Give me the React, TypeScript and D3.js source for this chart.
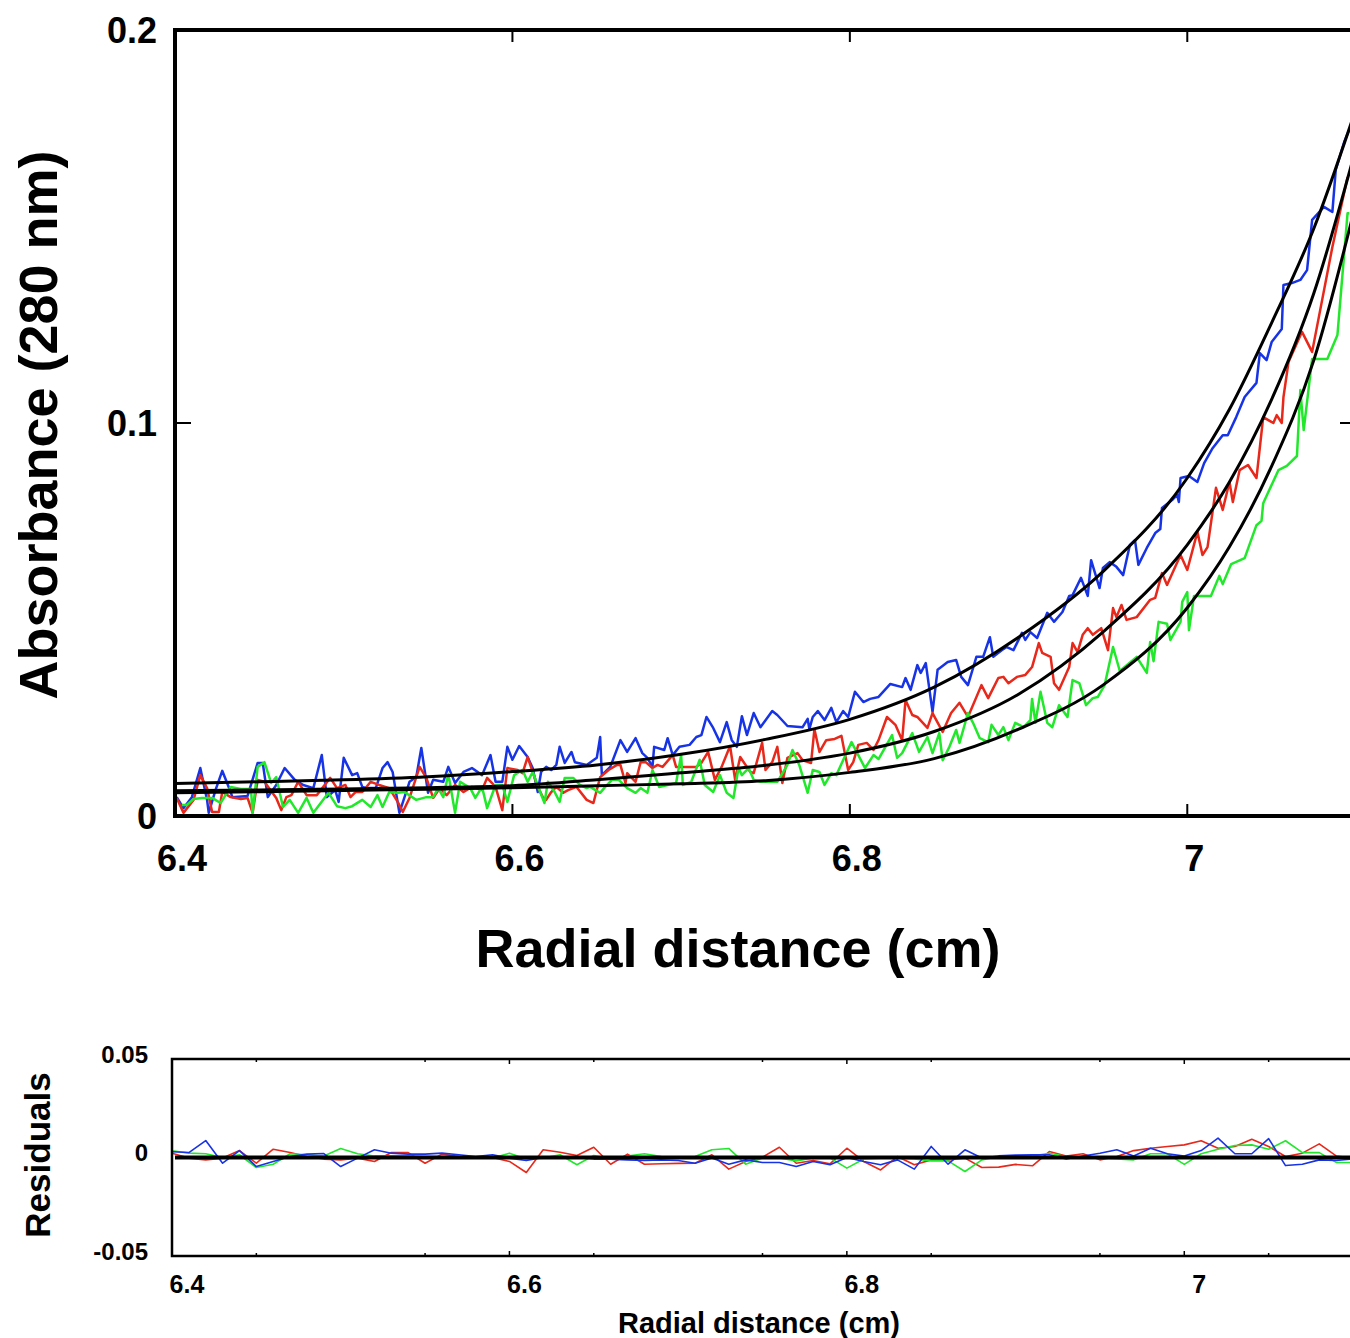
import React from 'react';
import * as d3 from 'd3';

// sedimentation equilibrium scans, absorbance at 280 nm vs radius
const W = 1350;
const H = 1338;
const FONT = '"Liberation Sans", Arial, Helvetica, sans-serif';

const BLUE = '#1733e6';
const RED = '#e8281a';
const GREEN = '#22e82c';

const blueScan: [number, number][] = [
  [6.401,0.0048],[6.405,0.0020],[6.410,0.0048],[6.415,0.0122],[6.419,0.0041],[6.420,0.0008],[6.424,0.0066],[6.428,0.0115],[6.433,0.0061],[6.434,0.0048],
  [6.443,0.0051],[6.449,0.0135],[6.452,0.0135],[6.455,0.0048],[6.460,0.0079],[6.465,0.0122],[6.471,0.0092],[6.476,0.0079],[6.482,0.0071],[6.487,0.0155],
  [6.490,0.0048],[6.495,0.0066],[6.497,0.0036],[6.500,0.0148],[6.505,0.0104],[6.508,0.0109],[6.511,0.0074],[6.514,0.0071],[6.519,0.0071],[6.523,0.0122],
  [6.526,0.0137],[6.529,0.0112],[6.533,0.0008],[6.539,0.0087],[6.543,0.0099],[6.546,0.0173],[6.550,0.0059],[6.553,0.0092],[6.559,0.0087],[6.562,0.0125],
  [6.566,0.0084],[6.571,0.0112],[6.576,0.0122],[6.582,0.0104],[6.587,0.0155],[6.590,0.0087],[6.594,0.0087],[6.597,0.0176],[6.600,0.0143],[6.604,0.0178],
  [6.609,0.0150],[6.612,0.0122],[6.615,0.0061],[6.617,0.0112],[6.620,0.0125],[6.623,0.0117],[6.626,0.0130],[6.628,0.0176],[6.631,0.0135],[6.635,0.0163],
  [6.637,0.0137],[6.644,0.0130],[6.650,0.0148],[6.652,0.0201],[6.653,0.0104],[6.658,0.0125],[6.664,0.0193],[6.668,0.0163],[6.673,0.0198],[6.677,0.0160],
  [6.680,0.0148],[6.683,0.0125],[6.684,0.0176],[6.690,0.0168],[6.692,0.0198],[6.695,0.0155],[6.699,0.0176],[6.705,0.0181],[6.709,0.0201],[6.712,0.0206],
  [6.715,0.0252],[6.719,0.0224],[6.723,0.0188],[6.727,0.0239],[6.730,0.0193],[6.733,0.0176],[6.736,0.0254],[6.739,0.0206],[6.743,0.0262],[6.747,0.0226],
  [6.754,0.0267],[6.757,0.0257],[6.763,0.0229],[6.772,0.0226],[6.775,0.0247],[6.776,0.0221],[6.778,0.0252],[6.781,0.0267],[6.785,0.0244],[6.789,0.0275],
  [6.792,0.0239],[6.796,0.0267],[6.799,0.0252],[6.803,0.0316],[6.808,0.0290],[6.812,0.0298],[6.817,0.0303],[6.824,0.0336],[6.831,0.0328],[6.833,0.0351],
  [6.836,0.0321],[6.840,0.0384],[6.842,0.0364],[6.845,0.0389],[6.849,0.0265],[6.852,0.0372],[6.858,0.0392],[6.863,0.0397],[6.866,0.0354],[6.870,0.0333],
  [6.875,0.0405],[6.879,0.0405],[6.883,0.0455],[6.885,0.0405],[6.890,0.0422],[6.893,0.0430],[6.897,0.0422],[6.902,0.0466],[6.904,0.0448],[6.907,0.0468],
  [6.911,0.0453],[6.917,0.0517],[6.921,0.0494],[6.926,0.0519],[6.930,0.0560],[6.932,0.0562],[6.937,0.0606],[6.941,0.0560],[6.943,0.0651],[6.948,0.0580],
  [6.950,0.0631],[6.954,0.0646],[6.958,0.0634],[6.962,0.0613],[6.966,0.0690],[6.969,0.0702],[6.971,0.0639],[6.976,0.0682],[6.981,0.0720],[6.984,0.0730],
  [6.985,0.0784],[6.991,0.0804],[6.994,0.0817],[6.995,0.0799],[6.996,0.0860],[7.001,0.0865],[7.006,0.0850],[7.010,0.0898],[7.015,0.0936],[7.021,0.0969],
  [7.024,0.0969],[7.029,0.1015],[7.034,0.1066],[7.041,0.1102],[7.043,0.1178],[7.047,0.1160],[7.050,0.1206],[7.056,0.1239],[7.057,0.1351],[7.062,0.1356],
  [7.067,0.1364],[7.071,0.1389],[7.074,0.1517],[7.081,0.1550],[7.086,0.1537],[7.088,0.1644],[7.093,0.1715],[7.096,0.1746],
];

const redScan: [number, number][] = [
  [6.401,0.0046],[6.405,0.0008],[6.411,0.0041],[6.415,0.0104],[6.419,0.0071],[6.422,0.0010],[6.426,0.0010],[6.428,0.0061],[6.433,0.0048],[6.439,0.0043],
  [6.443,0.0046],[6.446,0.0008],[6.449,0.0092],[6.453,0.0087],[6.460,0.0046],[6.463,0.0015],[6.466,0.0048],[6.469,0.0053],[6.473,0.0087],[6.478,0.0053],
  [6.484,0.0053],[6.492,0.0097],[6.496,0.0071],[6.501,0.0079],[6.504,0.0048],[6.507,0.0061],[6.511,0.0061],[6.516,0.0087],[6.521,0.0079],[6.527,0.0071],
  [6.532,0.0036],[6.535,0.0010],[6.539,0.0046],[6.545,0.0125],[6.549,0.0097],[6.553,0.0046],[6.557,0.0071],[6.561,0.0053],[6.566,0.0079],[6.571,0.0061],
  [6.576,0.0074],[6.582,0.0066],[6.585,0.0097],[6.590,0.0074],[6.594,0.0015],[6.597,0.0122],[6.603,0.0117],[6.606,0.0109],[6.609,0.0150],[6.612,0.0112],
  [6.615,0.0074],[6.618,0.0048],[6.620,0.0041],[6.623,0.0061],[6.626,0.0074],[6.630,0.0059],[6.633,0.0066],[6.638,0.0074],[6.644,0.0041],[6.648,0.0033],
  [6.652,0.0099],[6.657,0.0117],[6.662,0.0130],[6.664,0.0130],[6.667,0.0084],[6.668,0.0109],[6.673,0.0087],[6.676,0.0137],[6.679,0.0137],[6.683,0.0122],
  [6.686,0.0130],[6.689,0.0125],[6.695,0.0155],[6.697,0.0125],[6.703,0.0125],[6.709,0.0125],[6.712,0.0135],[6.716,0.0163],[6.720,0.0092],[6.724,0.0125],
  [6.729,0.0178],[6.732,0.0092],[6.735,0.0150],[6.741,0.0112],[6.743,0.0109],[6.748,0.0186],[6.750,0.0117],[6.754,0.0137],[6.757,0.0176],[6.760,0.0084],
  [6.763,0.0148],[6.769,0.0160],[6.772,0.0142],[6.777,0.0135],[6.779,0.0221],[6.782,0.0163],[6.786,0.0193],[6.791,0.0196],[6.795,0.0204],[6.797,0.0160],
  [6.799,0.0117],[6.802,0.0137],[6.805,0.0181],[6.810,0.0186],[6.814,0.0168],[6.817,0.0193],[6.822,0.0252],[6.827,0.0232],[6.831,0.0193],[6.833,0.0295],
  [6.837,0.0257],[6.840,0.0252],[6.846,0.0224],[6.849,0.0262],[6.855,0.0214],[6.860,0.0262],[6.865,0.0288],[6.870,0.0252],[6.878,0.0333],[6.882,0.0300],
  [6.888,0.0351],[6.891,0.0354],[6.894,0.0338],[6.899,0.0354],[6.904,0.0359],[6.908,0.0379],[6.912,0.0440],[6.914,0.0415],[6.919,0.0405],[6.921,0.0338],
  [6.924,0.0321],[6.930,0.0379],[6.932,0.0440],[6.935,0.0417],[6.938,0.0461],[6.941,0.0478],[6.944,0.0461],[6.949,0.0478],[6.953,0.0422],[6.956,0.0529],
  [6.958,0.0506],[6.961,0.0537],[6.964,0.0499],[6.970,0.0506],[6.978,0.0550],[6.981,0.0555],[6.985,0.0618],[6.988,0.0588],[6.996,0.0664],[7.000,0.0626],
  [7.006,0.0723],[7.009,0.0664],[7.012,0.0684],[7.017,0.0835],[7.021,0.0779],[7.025,0.0850],[7.027,0.0799],[7.031,0.0880],[7.036,0.0893],[7.041,0.0860],
  [7.045,0.1015],[7.051,0.1000],[7.053,0.1020],[7.056,0.1000],[7.057,0.1066],[7.060,0.1155],[7.068,0.1232],[7.074,0.1181],[7.086,0.1448],[7.095,0.1626],
];

const greenScan: [number, number][] = [
  [6.404,0.0028],[6.407,0.0028],[6.411,0.0043],[6.416,0.0046],[6.422,0.0046],[6.427,0.0033],[6.433,0.0074],[6.439,0.0069],[6.445,0.0069],[6.446,0.0008],
  [6.449,0.0125],[6.453,0.0137],[6.457,0.0084],[6.460,0.0099],[6.464,0.0023],[6.468,0.0041],[6.473,0.0008],[6.478,0.0046],[6.482,0.0008],[6.491,0.0059],
  [6.496,0.0025],[6.501,0.0020],[6.505,0.0025],[6.511,0.0041],[6.516,0.0023],[6.520,0.0053],[6.523,0.0023],[6.527,0.0061],[6.532,0.0059],[6.536,0.0061],
  [6.543,0.0041],[6.549,0.0048],[6.553,0.0048],[6.556,0.0071],[6.559,0.0048],[6.562,0.0107],[6.566,0.0008],[6.569,0.0087],[6.575,0.0071],[6.578,0.0046],
  [6.582,0.0074],[6.585,0.0020],[6.590,0.0079],[6.594,0.0079],[6.597,0.0036],[6.601,0.0104],[6.606,0.0117],[6.609,0.0087],[6.612,0.0112],[6.616,0.0066],
  [6.619,0.0033],[6.621,0.0087],[6.625,0.0061],[6.628,0.0036],[6.631,0.0097],[6.636,0.0097],[6.640,0.0079],[6.644,0.0071],[6.646,0.0074],[6.652,0.0059],
  [6.655,0.0074],[6.659,0.0092],[6.663,0.0092],[6.668,0.0071],[6.673,0.0059],[6.676,0.0071],[6.680,0.0059],[6.683,0.0117],[6.687,0.0074],[6.692,0.0079],
  [6.697,0.0084],[6.700,0.0155],[6.701,0.0079],[6.706,0.0087],[6.711,0.0143],[6.714,0.0079],[6.719,0.0061],[6.723,0.0104],[6.727,0.0059],[6.731,0.0046],
  [6.734,0.0122],[6.736,0.0104],[6.740,0.0122],[6.743,0.0092],[6.747,0.0087],[6.751,0.0087],[6.757,0.0087],[6.763,0.0130],[6.766,0.0168],[6.770,0.0130],
  [6.775,0.0059],[6.778,0.0117],[6.782,0.0112],[6.785,0.0079],[6.789,0.0109],[6.792,0.0104],[6.796,0.0142],[6.801,0.0188],[6.805,0.0155],[6.809,0.0122],
  [6.814,0.0155],[6.817,0.0145],[6.825,0.0206],[6.828,0.0148],[6.831,0.0160],[6.837,0.0211],[6.841,0.0163],[6.846,0.0201],[6.849,0.0160],[6.853,0.0211],
  [6.855,0.0142],[6.859,0.0176],[6.863,0.0219],[6.865,0.0186],[6.870,0.0262],[6.873,0.0237],[6.877,0.0198],[6.882,0.0188],[6.884,0.0232],[6.888,0.0206],
  [6.891,0.0226],[6.894,0.0193],[6.898,0.0237],[6.903,0.0226],[6.907,0.0244],[6.908,0.0298],[6.910,0.0237],[6.913,0.0316],[6.917,0.0237],[6.920,0.0226],
  [6.924,0.0282],[6.929,0.0252],[6.932,0.0346],[6.936,0.0338],[6.940,0.0282],[6.944,0.0300],[6.947,0.0303],[6.951,0.0333],[6.956,0.0430],[6.960,0.0369],
  [6.970,0.0405],[6.976,0.0364],[6.978,0.0443],[6.980,0.0394],[6.983,0.0494],[6.988,0.0489],[6.990,0.0448],[6.996,0.0494],[6.997,0.0545],[7.000,0.0570],
  [7.001,0.0473],[7.004,0.0560],[7.014,0.0560],[7.019,0.0611],[7.021,0.0590],[7.026,0.0641],[7.034,0.0656],[7.041,0.0740],[7.044,0.0751],[7.045,0.0796],
  [7.054,0.0880],[7.059,0.0891],[7.065,0.0916],[7.067,0.1084],[7.069,0.0982],[7.074,0.1163],[7.083,0.1163],[7.089,0.1224],[7.095,0.1534],[7.096,0.1534],
];

// fitted curves, read at these radii
const fitRadius = [6.40, 6.45, 6.50, 6.55, 6.60, 6.65, 6.70, 6.75, 6.80, 6.85, 6.90, 6.95, 7.00, 7.025, 7.05, 7.075, 7.10];
const blueFit = [0.0083, 0.0087, 0.0092, 0.0100, 0.0113, 0.0130, 0.0157, 0.0195, 0.0246, 0.0328, 0.0455, 0.0622, 0.0860, 0.1035, 0.1255, 0.1495, 0.1800];
const redFit = [0.0064, 0.0066, 0.0069, 0.0072, 0.0077, 0.0092, 0.0110, 0.0129, 0.0160, 0.0215, 0.0310, 0.0468, 0.0690, 0.0850, 0.1060, 0.1330, 0.1700];
const greenFit = [0.0059, 0.0062, 0.0065, 0.0068, 0.0072, 0.0077, 0.0082, 0.0090, 0.0111, 0.0146, 0.0221, 0.0333, 0.0530, 0.0685, 0.0890, 0.1160, 0.1560];

// residuals on a 0.01 cm grid
const residRadius = [
  6.40, 6.41, 6.42, 6.43, 6.44, 6.45, 6.46, 6.47, 6.48, 6.49, 6.50, 6.51, 6.52, 6.53, 6.54, 6.55, 6.56, 6.57, 6.58, 6.59,
  6.60, 6.61, 6.62, 6.63, 6.64, 6.65, 6.66, 6.67, 6.68, 6.69, 6.70, 6.71, 6.72, 6.73, 6.74, 6.75, 6.76, 6.77, 6.78, 6.79,
  6.80, 6.81, 6.82, 6.83, 6.84, 6.85, 6.86, 6.87, 6.88, 6.89, 6.90, 6.91, 6.92, 6.93, 6.94, 6.95, 6.96, 6.97, 6.98, 6.99,
  7.00, 7.01, 7.02, 7.03, 7.04, 7.05, 7.06, 7.07, 7.08, 7.09, 7.10,
];
const blueResid = [
  0.0029, 0.0025, 0.0086, -0.0029, 0.0035, -0.0046, -0.0020, 0.0005, 0.0017, 0.0020, -0.0046, -0.0003, 0.0039, 0.0022, 0.0017, 0.0017,
  0.0022, 0.0014, 0.0005, 0.0014, -0.0003, -0.0015, 0, -0.0003, 0, -0.0008, -0.0008, -0.0012, -0.0015, -0.0012, -0.0015, -0.0029,
  -0.0003, -0.0034, -0.0012, -0.0025, -0.0025, -0.0046, -0.0020, -0.0037, 0, -0.0020, -0.0037, -0.0012, -0.0059, 0.0056, -0.0034, 0.0039,
  -0.0003, 0.0008, 0.0012, 0.0014, 0.0014, -0.0008, 0.0008, 0.0022, 0.0039, 0.0008, 0.0047, 0.0019, 0.0008, 0.0035, 0.0098, 0.0019,
  0.0019, 0.0096, -0.0041, -0.0034, -0.0012, -0.0015, -0.0008,
];
const redResid = [
  0.0022, -0.0003, -0.0012, -0.0003, 0.0035, -0.0029, 0.0042, 0.0025, 0.0005, -0.0008, -0.0012, -0.0003, -0.0020, 0.0025, 0.0025, -0.0029,
  0.0017, 0.0005, 0, 0, -0.0020, -0.0076, 0.0039, 0.0027, 0.0010, 0.0052, -0.0034, 0.0017, -0.0034, -0.0032, -0.0030, -0.0029,
  0.0014, -0.0059, -0.0020, 0.0002, 0.0052, -0.0029, -0.0015, -0.0032, 0.0047, -0.0020, -0.0063, 0.0005, -0.0037, -0.0012, -0.0012, -0.0003,
  -0.0051, -0.0049, -0.0035, -0.0042, 0.0030, 0.0008, 0.0019, -0.0012, 0.0005, 0.0035, 0.0047, 0.0056, 0.0064, 0.0085, 0.0047, 0.0056,
  0.0093, 0.0056, 0.0005, 0.0022, 0.0069, 0.0008, -0.0003,
];
const greenResid = [
  0.0034, 0.0022, 0.0019, 0, 0.0014, -0.0051, -0.0034, 0.0019, 0.0014, 0.0008, 0.0046, 0.0019, 0.0008, 0.0008, 0.0008, 0.0005,
  0.0005, 0, -0.0003, -0.0003, 0.0022, -0.0008, -0.0003, 0.0014, -0.0037, 0.0010, -0.0008, 0.0008, 0.0019, 0.0005, 0, 0.0005,
  0.0039, 0.0046, -0.0034, -0.0002, -0.0002, -0.0017, -0.0002, -0.0002, -0.0054, -0.0008, -0.0003, -0.0003, -0.0008, -0.0017, -0.0017, -0.0071,
  -0.0012, 0.0005, 0.0008, 0.0008, 0.0022, 0.0005, -0.0002, -0.0003, -0.0007, -0.0012, 0.0019, 0.0019, -0.0035, 0.0019, 0.0042, 0.0061,
  0.0064, 0.0042, 0.0085, 0.0025, 0.0025, -0.0025, -0.0025,
];

const xTickLabels = [6.4, 6.6, 6.8, 7.0];
const xTickMarks = [6.6, 6.8, 7.0];
const xMinorTicks = [6.45, 6.55, 6.65, 6.75, 6.85, 6.95, 7.05];
const yTickLabels = [0, 0.1, 0.2];
const residTickLabels = [-0.05, 0, 0.05];

export default function App() {
  // main panel
  const x = d3.scaleLinear().domain([6.4, 7.1]).range([175, 1356]);
  const y = d3.scaleLinear().domain([0, 0.2]).range([816, 30]);
  // residual panel
  const xr = d3.scaleLinear().domain([6.4, 7.1]).range([172, 1353]);
  const yr = d3.scaleLinear().domain([-0.05, 0.05]).range([1256, 1059]);

  const scanLine = d3.line<[number, number]>().x(d => x(d[0])).y(d => y(d[1]));
  const fitLine = d3.line<number>()
    .x((_, i) => x(fitRadius[i]))
    .y(d => y(d))
    .curve(d3.curveMonotoneX);
  const residLine = d3.line<number>().x((_, i) => xr(residRadius[i])).y(d => yr(d));

  const [x0, x1] = x.range();
  const [yb, yt] = y.range();
  const [rx0, rx1] = xr.range();
  const [ryb, ryt] = yr.range();

  return (
    <svg width={W} height={H} style={{ position: 'absolute', left: 0, top: 0, background: '#fff' }}
      fontFamily={FONT} fontWeight="bold">
      <defs>
        <clipPath id="mainClip">
          <rect x={x0} y={yt} width={x1 - x0} height={yb - yt} />
        </clipPath>
        <clipPath id="residClip">
          <rect x={rx0} y={ryt} width={rx1 - rx0} height={ryb - ryt} />
        </clipPath>
      </defs>

      {/* ---- main panel ---- */}
      <g clipPath="url(#mainClip)" fill="none" strokeLinejoin="round">
        <path d={scanLine(blueScan) ?? ''} stroke={BLUE} strokeWidth={2.5} />
        <path d={scanLine(redScan) ?? ''} stroke={RED} strokeWidth={2.5} />
        <path d={scanLine(greenScan) ?? ''} stroke={GREEN} strokeWidth={2.5} />
        <path d={fitLine(blueFit) ?? ''} stroke="#000" strokeWidth={3} />
        <path d={fitLine(redFit) ?? ''} stroke="#000" strokeWidth={3} />
        <path d={fitLine(greenFit) ?? ''} stroke="#000" strokeWidth={3} />
      </g>

      <g stroke="#000" strokeWidth={2}>
        {xTickMarks.map(v => (
          <g key={v}>
            <line x1={x(v)} x2={x(v)} y1={yt} y2={yt + 12} />
            <line x1={x(v)} x2={x(v)} y1={yb} y2={yb - 12} />
          </g>
        ))}
        <line x1={x0} x2={x0 + 16} y1={y(0.1)} y2={y(0.1)} />
        <line x1={x1} x2={x1 - 16} y1={y(0.1)} y2={y(0.1)} />
      </g>
      <path d={`M${x1},${yt}H${x0}V${yb}H${x1}`} fill="none" stroke="#000" strokeWidth={4} />

      {yTickLabels.map(v => (
        <text key={v} x={157} y={y(v)} textAnchor="end" dominantBaseline="central" fontSize={36}>
          {String(v)}
        </text>
      ))}
      {xTickLabels.map(v => (
        <text key={v} x={x(v) + 7} y={858} textAnchor="middle" dominantBaseline="central" fontSize={36}>
          {String(v)}
        </text>
      ))}
      <text x={738} y={948} textAnchor="middle" dominantBaseline="central" fontSize={54}>
        Radial distance (cm)
      </text>
      <text transform="translate(38,425) rotate(-90)" textAnchor="middle" dominantBaseline="central" fontSize={54}>
        Absorbance (280 nm)
      </text>

      {/* ---- residual panel ---- */}
      <g clipPath="url(#residClip)" fill="none" strokeLinejoin="round">
        <path d={residLine(redResid) ?? ''} stroke={RED} strokeWidth={1.6} />
        <path d={residLine(greenResid) ?? ''} stroke={GREEN} strokeWidth={1.6} />
        <path d={residLine(blueResid) ?? ''} stroke={BLUE} strokeWidth={1.6} />
      </g>
      <line x1={rx0 + 3} x2={rx1} y1={yr(0)} y2={yr(0)} stroke="#000" strokeWidth={4} />

      <g stroke="#000" strokeWidth={1.5}>
        {xTickMarks.map(v => (
          <g key={v}>
            <line x1={xr(v)} x2={xr(v)} y1={ryt} y2={ryt + 5} />
            <line x1={xr(v)} x2={xr(v)} y1={ryb} y2={ryb - 5} />
          </g>
        ))}
        {xMinorTicks.map(v => (
          <g key={v}>
            <line x1={xr(v)} x2={xr(v)} y1={ryt} y2={ryt + 3} />
            <line x1={xr(v)} x2={xr(v)} y1={ryb} y2={ryb - 3} />
          </g>
        ))}
      </g>
      <path d={`M${rx1},${ryt}H${rx0}V${ryb}H${rx1}`} fill="none" stroke="#000" strokeWidth={2.5} />

      {residTickLabels.map(v => (
        <text key={v} x={148} y={yr(v) - 5} textAnchor="end" dominantBaseline="central" fontSize={24}>
          {String(v)}
        </text>
      ))}
      {xTickLabels.map(v => (
        <text key={v} x={xr(v) + 15} y={1284} textAnchor="middle" dominantBaseline="central" fontSize={25}>
          {String(v)}
        </text>
      ))}
      <text x={759} y={1323} textAnchor="middle" dominantBaseline="central" fontSize={29}>
        Radial distance (cm)
      </text>
      <text transform="translate(37,1155) rotate(-90)" textAnchor="middle" dominantBaseline="central" fontSize={35}>
        Residuals
      </text>
    </svg>
  );
}
